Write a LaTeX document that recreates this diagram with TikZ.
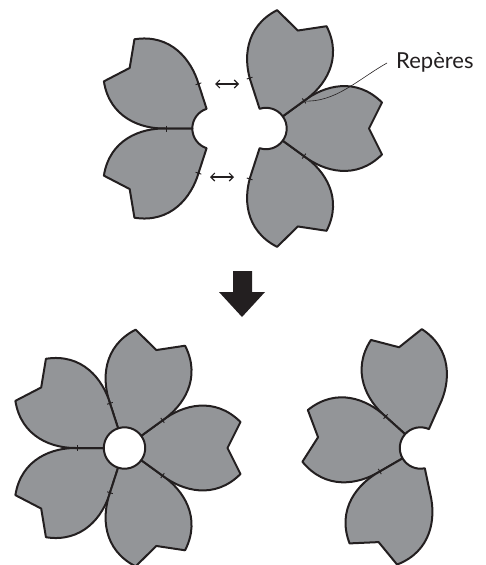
\documentclass[tikz,border=0pt]{standalone}
\usepackage{fontspec}
\setmainfont{Lato}
\usepackage{xcolor}
\usetikzlibrary{arrows.meta, calc}

\definecolor{petalgray}{RGB}{147,149,152}
\definecolor{inkblack}{RGB}{35,31,32}

\tikzset{
    petal/.style={fill=petalgray, draw=inkblack, line width=2pt, line join=round},
    tick/.style={draw=inkblack, line width=0.9pt},
    swap/.style={draw=inkblack, line width=1.1pt, {Straight Barb[length=4pt,width=8pt]}-{Straight Barb[length=4pt,width=8pt]}},
    leader/.style={draw=inkblack, line width=0.6pt},
}

% one petal, pointing along +x from the hole centre
\newcommand{\petalpath}{
    (-36:20.7) -- (-36:47) .. controls (58,-43) and (90,-52) .. (116,-26)
    -- (103,0) -- (116,26) .. controls (90,52) and (58,43) .. (36:47)
    -- (36:20.7) arc[start angle=36, end angle=-36, radius=20.7pt] -- cycle
}

\begin{document}
\begin{tikzpicture}[x=1pt, y=1pt]
    \useasboundingbox (0,-565) rectangle (485,0);

    \coordinate (leftHole) at (213,-128.5);
    \coordinate (rightHole) at (266,-128.5);
    \coordinate (fullHole) at (124.5,-448);
    \coordinate (partHole) at (420.5,-448);

    % top: two petals on the left
    \foreach \angle in {144, 216} {
        \draw[petal, shift={(leftHole)}, rotate=\angle] \petalpath;
    }
    % top: three petals on the right
    \foreach \angle in {-72, 0, 72} {
        \draw[petal, shift={(rightHole)}, rotate=\angle] \petalpath;
    }
    % bottom left: whole flower
    \foreach \angle in {-144, -72, 0, 72, 144} {
        \draw[petal, shift={(fullHole)}, rotate=\angle] \petalpath;
    }
    % bottom right: three petals
    \foreach \angle in {102, 174, 246} {
        \draw[petal, shift={(partHole)}, rotate=\angle] \petalpath;
    }

    % ticks on the seams
    \foreach \angle in {108, 180, 252} {
        \draw[tick, shift={(leftHole)}, rotate=\angle] (47,-3) -- (47,3);
    }
    \foreach \angle in {36, -36} {
        \draw[tick, shift={(rightHole)}, rotate=\angle] (47,-3) -- (47,3);
    }
    \foreach \angle in {108, -108} {
        \draw[tick, shift={(rightHole)}, rotate=\angle] (53,-3) -- (53,3);
    }
    \foreach \angle in {36, 108, 180, 252, 324} {
        \draw[tick, shift={(fullHole)}, rotate=\angle] (47,-3) -- (47,3);
    }
    \foreach \angle in {138, 210} {
        \draw[tick, shift={(partHole)}, rotate=\angle] (47,-3) -- (47,3);
    }

    % double arrows
    \coordinate (swapTopL) at (215,-84);
    \coordinate (swapTopR) at (239,-84);
    \coordinate (swapLowL) at (210,-177);
    \coordinate (swapLowR) at (234,-177);
    \draw[swap] (swapTopL) -- (swapTopR);
    \draw[swap] (swapLowL) -- (swapLowR);

    % label with its leader
    \node[anchor=base west, font=\fontsize{22}{26}\selectfont, text=inkblack, inner sep=0pt] (repLabel) at (396,-68) {Repères};
    \coordinate (leaderEnd) at (303,-101);
    \coordinate (leaderStart) at (387,-63);
    \draw[leader] (leaderStart) .. controls (357,-80) and (335,-103) .. (leaderEnd);

    % big arrow between the rows
    \fill[inkblack] (233,-271) -- (252,-271) -- (252,-292) -- (265,-292) -- (242,-317) -- (219,-292) -- (233,-292) -- cycle;
\end{tikzpicture}
\end{document}
